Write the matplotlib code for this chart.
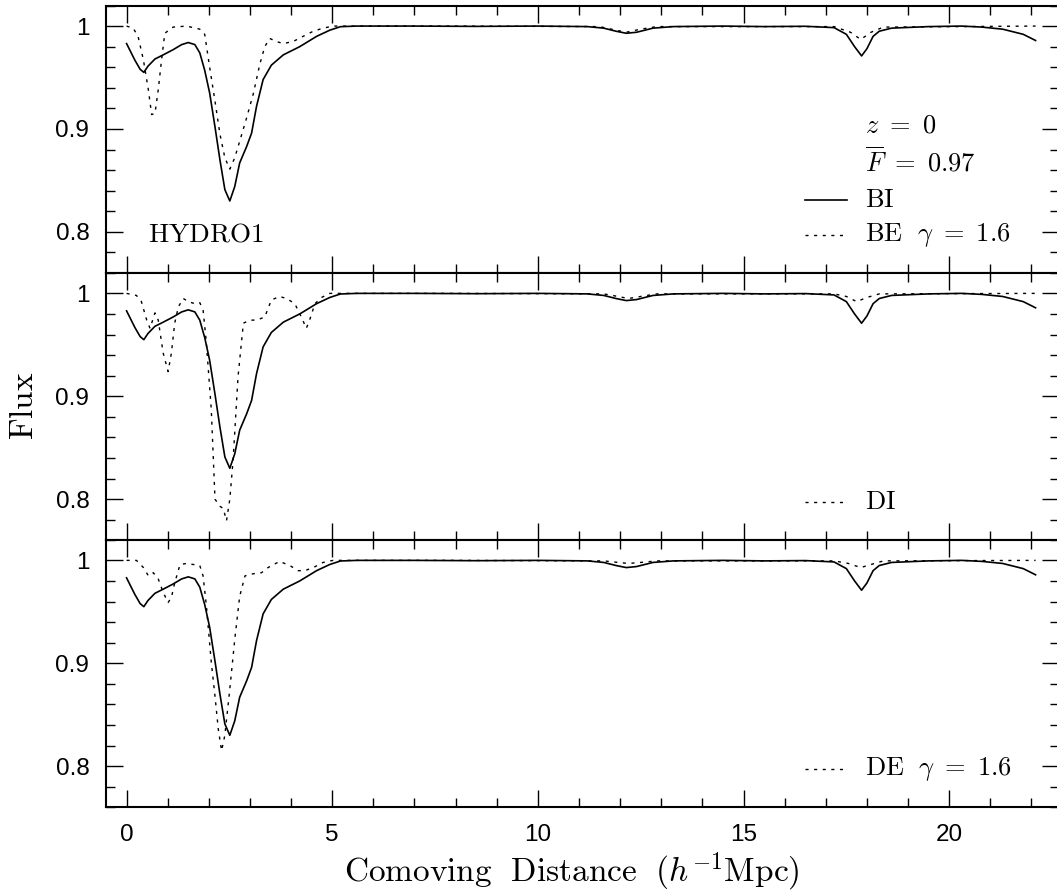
import matplotlib
matplotlib.use("Agg")
import matplotlib.pyplot as plt
from matplotlib.ticker import MultipleLocator, FuncFormatter

plt.rcParams['mathtext.fontset'] = 'cm'

# BI flux profile (same reference curve in all three panels)
bi_x = [0.0, 0.2, 0.33, 0.42, 0.52, 0.69, 0.89, 1.13, 1.34, 1.5, 1.66, 1.78, 1.9,
        2.02, 2.15, 2.27, 2.39, 2.51, 2.63, 2.75, 2.92, 3.04, 3.16, 3.32,
        3.52, 3.81, 4.21, 4.62, 4.94, 5.2, 5.6, 7.0, 8.5, 10.0, 11.2, 11.6,
        11.9, 12.15, 12.4, 12.8, 13.3, 14.5, 15.5, 16.5, 17.2, 17.5, 17.7,
        17.87, 18.0, 18.15, 18.3, 18.6, 19.5, 20.3, 20.8, 21.3, 21.8, 22.1]
bi_f = [0.983, 0.967, 0.958, 0.955, 0.961, 0.968, 0.972, 0.977, 0.982, 0.984,
        0.982, 0.974, 0.957, 0.935, 0.902, 0.870, 0.841, 0.830, 0.844, 0.867,
        0.883, 0.896, 0.922, 0.948, 0.962, 0.972, 0.980, 0.990, 0.996, 0.9994,
        1.0, 1.0, 0.9997, 1.0, 0.9995, 0.998, 0.995, 0.993, 0.994, 0.998,
        0.9995, 1.0, 0.9995, 0.9998, 0.9985, 0.992, 0.980, 0.971, 0.978, 0.990,
        0.995, 0.998, 0.9995, 1.0, 0.999, 0.997, 0.992, 0.986]

# BE, gamma = 1.6
be_x = [0.0, 0.16, 0.28, 0.41, 0.53, 0.61, 0.69, 0.77, 0.85, 0.93, 1.13, 1.46,
        1.78, 1.9, 2.02, 2.15, 2.27, 2.39, 2.51, 2.63, 2.75, 2.92, 3.08, 3.24,
        3.36, 3.48, 3.64, 3.81, 4.05, 4.29, 4.54, 4.78, 5.02, 8.0, 11.5, 11.9,
        12.15, 12.5, 12.9, 17.2, 17.6, 17.85, 18.1, 18.4, 22.1]
be_f = [1.0, 0.998, 0.990, 0.967, 0.938, 0.914, 0.915, 0.938, 0.967, 0.993,
        0.999, 1.0, 0.997, 0.992, 0.960, 0.927, 0.895, 0.872, 0.861, 0.872,
        0.888, 0.911, 0.934, 0.963, 0.980, 0.988, 0.985, 0.983, 0.985, 0.990,
        0.995, 0.998, 1.0, 1.0, 0.9995, 0.996, 0.994, 0.997, 0.9995, 0.9995,
        0.994, 0.987, 0.994, 0.999, 1.0]

# DI
di_x = [0.0, 0.24, 0.36, 0.49, 0.57, 0.69, 0.77, 0.89, 1.01, 1.09, 1.17, 1.26,
        1.38, 1.5, 1.66, 1.78, 1.86, 1.94, 2.06, 2.15, 2.27, 2.35, 2.43, 2.51,
        2.59, 2.71, 2.84, 3.0, 3.16, 3.36, 3.52, 3.72, 3.89, 4.09, 4.25, 4.37,
        4.45, 4.58, 4.74, 4.94, 8.0, 11.6, 11.95, 12.2, 12.5, 12.9, 17.2,
        17.5, 17.75, 18.0, 18.3, 22.1]
di_f = [1.0, 0.998, 0.992, 0.974, 0.966, 0.981, 0.974, 0.942, 0.924, 0.942,
        0.971, 0.987, 0.995, 0.992, 0.990, 0.991, 0.984, 0.952, 0.887, 0.800,
        0.793, 0.791, 0.779, 0.800, 0.838, 0.919, 0.971, 0.974, 0.974, 0.977,
        0.9935, 0.997, 0.995, 0.990, 0.977, 0.966, 0.974, 0.990, 0.996, 1.0,
        1.0, 0.9995, 0.997, 0.995, 0.997, 0.9995, 0.9995, 0.997, 0.992, 0.996,
        0.9995, 1.0]

# DE, gamma = 1.6
de_x = [0.0, 0.24, 0.41, 0.53, 0.65, 0.77, 0.89, 1.01, 1.09, 1.17, 1.3, 1.46,
        1.62, 1.78, 1.86, 1.94, 2.06, 2.15, 2.23, 2.31, 2.39, 2.51, 2.63, 2.75,
        2.88, 3.08, 3.28, 3.44, 3.72, 3.97, 4.17, 4.33, 4.54, 4.78, 5.02, 8.0,
        11.6, 11.95, 12.2, 12.5, 12.9, 17.2, 17.55, 17.85, 18.1, 18.4, 22.1]
de_f = [1.0, 1.0, 0.993, 0.985, 0.988, 0.982, 0.969, 0.959, 0.964, 0.978,
        0.996, 0.997, 0.996, 0.995, 0.985, 0.956, 0.901, 0.868, 0.836, 0.815,
        0.830, 0.875, 0.923, 0.965, 0.985, 0.987, 0.988, 0.993, 0.999, 0.995,
        0.990, 0.990, 0.993, 0.998, 1.0, 1.0, 0.9995, 0.998, 0.997, 0.998,
        0.9995, 0.9995, 0.997, 0.993, 0.996, 0.9995, 1.0]

panels = [
    (be_x, be_f, r'$\mathrm{BE}\ \ \gamma\ =\ 1.6$'),
    (di_x, di_f, r'$\mathrm{DI}$'),
    (de_x, de_f, r'$\mathrm{DE}\ \ \gamma\ =\ 1.6$'),
]

DOTS = (0, (2.2, 4.0))
tick_font = {'family': 'Liberation Sans', 'size': 17.5}

fig = plt.figure(figsize=(10.57, 8.92), dpi=100)
left, width = 106 / 1057, 953 / 1057
bottoms = [619 / 892, 351.7 / 892, 84.7 / 892]
height = 267.5 / 892

axes = []
for i, (dx, df, label) in enumerate(panels):
    ax = fig.add_axes([left, bottoms[i], width, height])
    axes.append(ax)
    ax.plot(bi_x, bi_f, color='black', lw=1.2)
    ax.plot(dx, df, color='black', lw=1.0, ls=DOTS)
    ax.set_xlim(-0.5, 22.67)
    ax.set_ylim(0.76, 1.02)

    ax.xaxis.set_major_locator(MultipleLocator(5))
    ax.xaxis.set_minor_locator(MultipleLocator(1))
    ax.yaxis.set_major_locator(MultipleLocator(0.1))
    ax.yaxis.set_minor_locator(MultipleLocator(0.02))
    ax.yaxis.set_major_formatter(FuncFormatter(lambda v, p: '%g' % round(v, 2)))
    ax.tick_params(which='both', direction='in', top=True, right=True, width=1.0)
    ax.tick_params(which='major', length=12, pad=12)
    ax.tick_params(which='minor', length=6.5)
    for lab in ax.get_yticklabels():
        lab.set_fontproperties(tick_font)
    for sp in ax.spines.values():
        sp.set_linewidth(1.5)

    if i < 2:
        ax.tick_params(labelbottom=False)
    else:
        ax.xaxis.set_major_formatter(FuncFormatter(lambda v, p: '%d' % v))
        for lab in ax.get_xticklabels():
            lab.set_fontproperties(tick_font)

    # legend sample + label in the lower right
    ax.plot([16.49, 17.51], [0.797, 0.797], color='black', lw=1.0, ls=DOTS)
    ax.text(17.95, 0.797, label, fontsize=19, va='center', ha='left')

top = axes[0]
top.text(0.52, 0.797, r'$\mathrm{HYDRO1}$', fontsize=19.5, va='center', ha='left')
top.text(17.95, 0.903, r'$z\ =\ 0$', fontsize=19, va='center', ha='left')
top.text(17.95, 0.867, r'$\overline{F}\ =\ 0.97$', fontsize=19, va='center', ha='left')
top.plot([16.49, 17.51], [0.831, 0.831], color='black', lw=1.2)
top.text(17.95, 0.831, r'$\mathrm{BI}$', fontsize=19, va='center', ha='left')

fig.text(23.5 / 1057, 1 - 406 / 892, r'$\mathrm{Flux}$', fontsize=24,
         rotation=90, va='center', ha='center')
fig.text(572 / 1057, 1 - 882 / 892,
         r'$\mathrm{Comoving\ \ Distance\ \ (}h^{-1}\mathrm{Mpc)}$',
         fontsize=24, va='baseline', ha='center')

fig.savefig('out.png', dpi=100)
